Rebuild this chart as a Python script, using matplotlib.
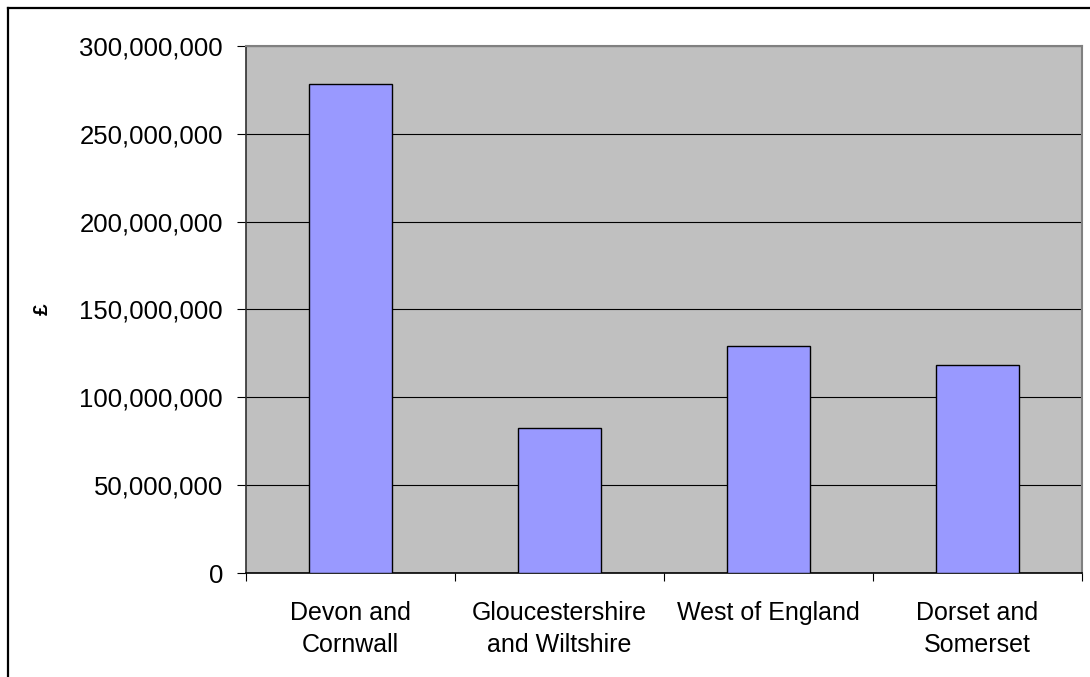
import matplotlib
matplotlib.use("Agg")
import matplotlib.pyplot as plt
from matplotlib.lines import Line2D
from matplotlib.ticker import FuncFormatter, MultipleLocator

regions = ["Devon and\nCornwall", "Gloucestershire\nand Wiltshire", "West of England", "Dorset and\nSomerset"]
funding = [278_000_000, 82_800_000, 129_400_000, 118_400_000]
y_max = 300_000_000
y_step = 50_000_000

plt.rcParams["font.family"] = ["Liberation Sans", "DejaVu Sans"]

fig = plt.figure(figsize=(10.9, 6.77), dpi=100)
ax = fig.add_axes([246 / 1090, 1 - 573.3 / 677, 836 / 1090, 527.6 / 677])

ax.set_facecolor("#C0C0C0")
ax.set_axisbelow(True)
ax.yaxis.grid(True, color="black", linewidth=0.8)

x = range(len(regions))
ax.bar(x, funding, width=0.4, color="#9999FF", edgecolor="black", linewidth=1.0, zorder=3)

ax.set_xlim(-0.5, len(regions) - 0.5)
ax.set_ylim(0, y_max)
ax.yaxis.set_major_locator(MultipleLocator(y_step))
ax.yaxis.set_major_formatter(FuncFormatter(lambda v, p: f"{int(v):,}"))

ax.set_xticks(list(x))
ax.set_xticklabels(regions, fontsize=18, linespacing=1.42)
ax.set_xticks([i - 0.5 for i in range(len(regions) + 1)], minor=True)
ax.tick_params(axis="x", which="major", length=0, pad=20)
ax.tick_params(axis="x", which="minor", length=6, width=0.8, direction="out", color="black")
ax.tick_params(axis="y", length=6.5, width=0.8, direction="out", pad=10, labelsize=18.5)

ax.set_ylabel("£", fontsize=15, fontweight="bold", labelpad=20)

for side in ("top", "right"):
    ax.spines[side].set_color("#808080")
    ax.spines[side].set_linewidth(1.5)
ax.spines["left"].set_color("#303030")
ax.spines["left"].set_linewidth(1.2)
ax.spines["bottom"].set_color("black")
ax.spines["bottom"].set_linewidth(1.2)

# outer chart frame (left and top edges)
fx = 7.5 / 1090
fy = 1 - 7.5 / 677
fig.add_artist(Line2D([fx, fx], [0, fy], transform=fig.transFigure, color="black", linewidth=1.6))
fig.add_artist(Line2D([fx, 1], [fy, fy], transform=fig.transFigure, color="black", linewidth=1.6))

fig.savefig("out.png", dpi=100, facecolor="white")
